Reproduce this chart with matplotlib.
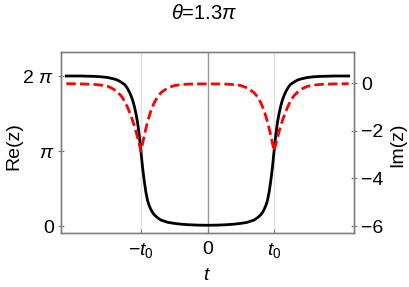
import numpy as np
import matplotlib
matplotlib.use("Agg")
import matplotlib.pyplot as plt

plt.rcParams['font.family'] = ['Liberation Sans', 'DejaVu Sans']
plt.rcParams['mathtext.fontset'] = 'custom'
plt.rcParams['mathtext.rm'] = 'Liberation Sans'
plt.rcParams['mathtext.it'] = 'Liberation Sans:italic'
plt.rcParams['mathtext.bf'] = 'Liberation Sans:bold'

# time in units of t0
t = [-2.12, -1.9, -1.7, -1.6, -1.5, -1.45, -1.4, -1.35, -1.3, -1.275, -1.25, -1.225,
     -1.2, -1.175, -1.15, -1.125, -1.1, -1.075, -1.05, -1.025, -1.0, -0.975, -0.95,
     -0.925, -0.9, -0.875, -0.85, -0.825, -0.8, -0.75, -0.7, -0.6, -0.5, -0.4, -0.3,
     -0.15, 0.0,
     0.15, 0.3, 0.4, 0.5, 0.6, 0.7, 0.75, 0.8, 0.825, 0.85, 0.875, 0.9, 0.925, 0.95,
     0.975, 1.0, 1.025, 1.05, 1.075, 1.1, 1.125, 1.15, 1.175, 1.2, 1.225, 1.25, 1.275,
     1.3, 1.35, 1.4, 1.45, 1.5, 1.6, 1.7, 1.9, 2.12]

# Re(z) in units of pi
re_z = [2.0, 2.0, 1.995, 1.99, 1.98, 1.97, 1.96, 1.945, 1.92, 1.905, 1.89, 1.865,
        1.83, 1.79, 1.74, 1.68, 1.60, 1.50, 1.38, 1.21, 1.00, 0.78, 0.60,
        0.45, 0.34, 0.27, 0.22, 0.18, 0.15, 0.11, 0.08, 0.05, 0.035, 0.025, 0.018,
        0.012, 0.01,
        0.012, 0.018, 0.025, 0.035, 0.05, 0.08, 0.11, 0.15, 0.18, 0.22, 0.27, 0.34, 0.45, 0.60,
        0.78, 1.00, 1.21, 1.38, 1.50, 1.60, 1.68, 1.74, 1.79, 1.83, 1.865, 1.89, 1.905,
        1.92, 1.945, 1.96, 1.97, 1.98, 1.99, 1.995, 2.0, 2.0]

# Im(z)
im_z = [-0.02, -0.03, -0.05, -0.08, -0.13, -0.19, -0.27, -0.38, -0.52, -0.62, -0.74, -0.87,
        -1.02, -1.19, -1.37, -1.57, -1.78, -2.02, -2.28, -2.56, -2.85, -2.52, -2.2,
        -1.9, -1.62, -1.38, -1.16, -0.98, -0.82, -0.57, -0.4, -0.2, -0.1, -0.06, -0.04,
        -0.03, -0.03,
        -0.03, -0.04, -0.06, -0.1, -0.2, -0.4, -0.57, -0.82, -0.98, -1.16, -1.38, -1.62, -1.9, -2.2,
        -2.52, -2.85, -2.56, -2.28, -2.02, -1.78, -1.57, -1.37, -1.19, -1.02, -0.87, -0.74, -0.62,
        -0.52, -0.38, -0.27, -0.19, -0.13, -0.08, -0.05, -0.03, -0.02]

xticks = [-1, 0, 1]
xtick_labels = [r'$-t_0$', '0', r'$t_0$']
left_ticks = [0, np.pi, 2 * np.pi]
left_labels = ['0', r'$\pi$', r'2 $\pi$']
right_ticks = [0, -2, -4, -6]
right_labels = ['0', '−2', '−4', '−6']

fig = plt.figure(figsize=(4.09, 2.87), dpi=100)
ax = fig.add_axes([61/409, 1-233/287, (354-61)/409, (233-52)/287])
ax2 = ax.twinx()

spine_c = '#808080'
for a in (ax, ax2):
    for s in a.spines.values():
        s.set_color(spine_c)
        s.set_linewidth(1.0)

ax.axvline(-1, color='#e0e0e0', lw=1.0, zorder=0)
ax.axvline(1, color='#e0e0e0', lw=1.0, zorder=0)
ax.axvline(0, color='#999999', lw=1.0, zorder=0)

ax.plot(t, np.array(re_z) * np.pi, color='black', lw=2.0, zorder=3)
ax2.plot(t, im_z, color='#ff0000', lw=2.0, dashes=(3.4, 1.5), zorder=3)

ax.set_xlim(-2.2, 2.2)
ax.set_ylim(-0.093 * np.pi, 2.32 * np.pi)
ax2.set_ylim(-6.29, 1.31)

ax.set_xticks(xticks)
ax.set_xticklabels(xtick_labels, fontsize=14)
ax.set_yticks(left_ticks)
ax.set_yticklabels(left_labels, fontsize=14)
ax2.set_yticks(right_ticks)
ax2.set_yticklabels(right_labels, fontsize=14)

ax.tick_params(axis='x', direction='in', length=3, color=spine_c, pad=6)
ax.tick_params(axis='y', direction='inout', length=4, color=spine_c, pad=3)
ax2.tick_params(axis='y', direction='inout', length=4, color=spine_c, pad=3)

ax.set_xlabel(r'$t$', fontsize=14, labelpad=5)
ax.set_ylabel('Re(z)', fontsize=14)
ax2.set_ylabel('Im(z)', fontsize=14)
ax.yaxis.set_label_coords((22 - 61) / 293, 0.48)
ax2.yaxis.set_label_coords((389 - 61) / 293, 0.485)
fig.suptitle(r'$\theta$=1.3$\pi$', fontsize=14.5, y=0.985)

fig.savefig('out.png', dpi=100)
